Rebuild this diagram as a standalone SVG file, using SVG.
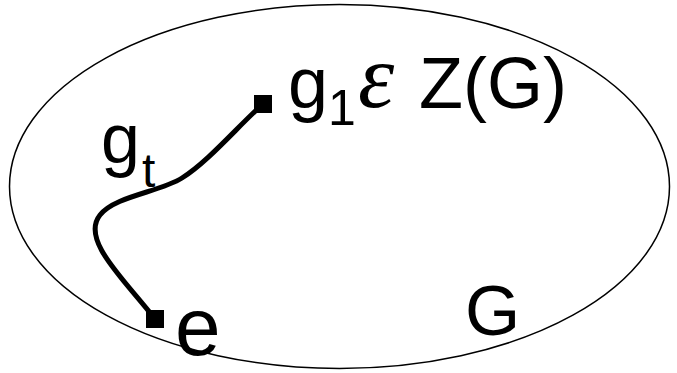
<svg xmlns="http://www.w3.org/2000/svg" width="677" height="373" viewBox="0 0 677 373">
<style>
text{font-family:"Liberation Sans",Arial,sans-serif;fill:#000}
.big{font-size:72px}
.sub{font-size:50px}
</style>
<rect width="677" height="373" fill="#fff"/>
<g id="set-G">
<ellipse cx="339.5" cy="186.5" rx="330" ry="182" fill="none" stroke="#000" stroke-width="1.5"/>
<text x="465" y="335" style="font-size:71px">G</text>
</g>
<g id="connectors">
<path d="M155,319 C125,280 80,240 100,215 C115,196 160,192 182,178 C208,162 240,124 263,104" fill="none" stroke="#000" stroke-width="5"/>
</g>
<g id="node-e">
<rect x="146" y="310" width="18" height="18" fill="#000"/>
<text x="175" y="355" style="font-size:82px">e</text>
</g>
<g id="node-g1">
<rect x="254" y="95" width="18" height="18" fill="#000"/>
<text x="288" y="108" class="big">g</text>
<text x="328" y="125" class="sub">1</text>
<text x="358" y="107" style="font-family:'Liberation Serif',serif;font-style:italic;font-size:92px">ε</text>
<text x="419" y="108" class="big">Z(G)</text>
</g>
<g id="label-gt">
<text x="101" y="163" class="big" style="font-size:70px">g</text>
<text x="142" y="187" class="sub" style="font-size:48px">t</text>
</g>
</svg>
